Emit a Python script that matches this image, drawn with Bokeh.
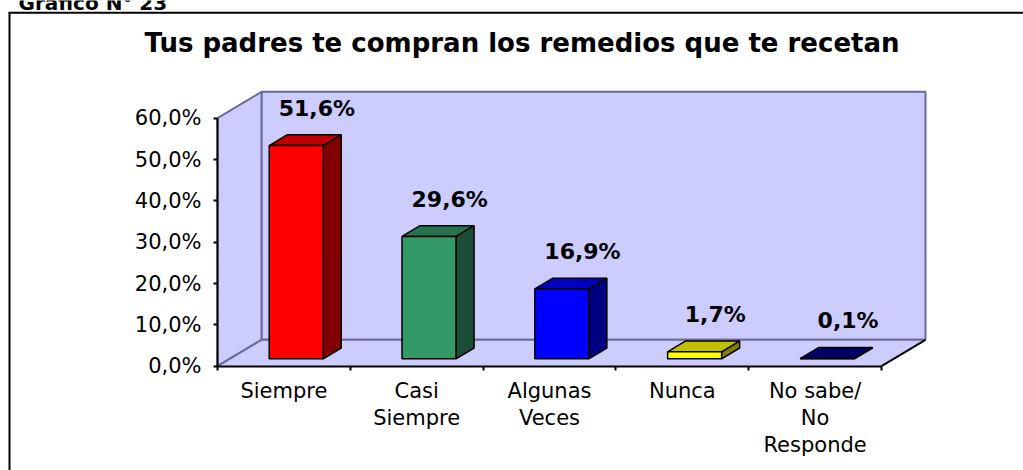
from bokeh.plotting import figure
from bokeh.models import Range1d, LinearAxis, FixedTicker
from bokeh.core.properties import value
from bokeh.embed import file_html
from bokeh.resources import INLINE

# ---------------- data ----------------
categories = ["Siempre", "Casi\nSiempre", "Algunas\nVeces", "Nunca", "No sabe/\nNo\nResponde"]
values = [51.6, 29.6, 16.9, 1.7, 0.1]
value_labels = ["51,6%", "29,6%", "16,9%", "1,7%", "0,1%"]
ytick_values = [0, 10, 20, 30, 40, 50, 60]
ytick_labels = ["0,0%", "10,0%", "20,0%", "30,0%", "40,0%", "50,0%", "60,0%"]
title_text = "Tus padres te compran los remedios que te recetan"
caption_text = "Gráfico N° 23"

# ---------------- styles ----------------
front_colors = ["#FF0000", "#339966", "#0000FF", "#FFFF00", "#000080"]
top_colors = ["#C00000", "#26734D", "#0000C0", "#C0C000", "#000066"]
side_colors = ["#800000", "#1A4D33", "#000080", "#808000", "#000040"]
WALL = "#CCCCFF"
EDGE = "#6B6B9B"
FONT = "DejaVu Sans"

# ---------------- geometry (pixels -> data) ----------------
W, H = 1023, 470
PX0, PX_PER_CAT = 217.0, 132.8      # pixel x of first category boundary, px per category
PY0, PY_PER_PCT = 365.7, 4.1333     # pixel y of 0 %, px per percent


def X(px):
    return (px - PX0) / PX_PER_CAT


def Y(py):
    return (PY0 - py) / PY_PER_PCT


DX = 44.0 / PX_PER_CAT      # depth offset in x data units
DY = 26.4 / PY_PER_PCT      # depth offset in y data units
Z0, Z1 = 0.28, 0.69         # bar depth span (fraction of depth)
HW = 0.2033                 # bar half width (category units)
N = len(values)
YMAX = ytick_values[-1]

p = figure(width=W, height=H,
           x_range=Range1d(X(0), X(W)),
           y_range=Range1d(Y(H), Y(0)),
           x_axis_type=None, y_axis_type=None,
           output_backend="svg", toolbar_location=None, min_border=0)
p.outline_line_color = None
p.background_fill_color = "white"
p.border_fill_color = "white"

# ---------------- walls ----------------
p.quad(left=[DX], right=[N + DX], bottom=[DY], top=[YMAX + DY],
       fill_color=WALL, line_color=EDGE, line_width=2)
p.patch(x=[0, 0, DX, DX], y=[0, YMAX, YMAX + DY, DY],
        fill_color=WALL, line_color=EDGE, line_width=2)
p.patch(x=[0, N, N + DX, DX], y=[0, 0, DY, DY],
        fill_color=WALL, line_color=None)
p.line(x=[0, DX], y=[0, DY], line_color=EDGE, line_width=2)
p.line(x=[DX, N + DX], y=[DY, DY], line_color=EDGE, line_width=2)
p.line(x=[N, N + DX], y=[0, DY], line_color="black", line_width=2)

# ---------------- 3D bars ----------------
centers = [i + 0.5 for i in range(N)]
fl = [c - HW + Z0 * DX for c in centers]
fr = [c + HW + Z0 * DX for c in centers]
fb = [Z0 * DY for _ in centers]
ft = [v + Z0 * DY for v in values]

side_xs = [[c + HW + Z0 * DX, c + HW + Z1 * DX, c + HW + Z1 * DX, c + HW + Z0 * DX] for c in centers]
side_ys = [[Z0 * DY, Z1 * DY, v + Z1 * DY, v + Z0 * DY] for v in values]
top_xs = [[c - HW + Z0 * DX, c + HW + Z0 * DX, c + HW + Z1 * DX, c - HW + Z1 * DX] for c in centers]
top_ys = [[v + Z0 * DY, v + Z0 * DY, v + Z1 * DY, v + Z1 * DY] for v in values]

p.patches(xs=side_xs, ys=side_ys, fill_color=side_colors, line_color="black", line_width=1.5)
p.patches(xs=top_xs, ys=top_ys, fill_color=top_colors, line_color="black", line_width=1.5)
p.quad(left=fl, right=fr, bottom=fb, top=ft, fill_color=front_colors,
       line_color="black", line_width=1.5)

# value labels
p.text(x=[c + 0.75 * DX for c in centers], y=[v + 0.75 * DY for v in values],
       text=value_labels, y_offset=-25, text_align="center", text_baseline="middle",
       text_font=value(FONT), text_font_style="bold", text_font_size="22px", text_color="black")

# ---------------- axes ----------------
yaxis = LinearAxis(fixed_location=0, bounds=(0, YMAX),
                   ticker=FixedTicker(ticks=ytick_values, minor_ticks=[]),
                   major_label_overrides={t: l for t, l in zip(ytick_values, ytick_labels)})
yaxis.axis_line_color = "black"
yaxis.axis_line_width = 2
yaxis.major_tick_line_color = "black"
yaxis.major_tick_line_width = 2
yaxis.major_tick_out = 4
yaxis.major_tick_in = 0
yaxis.minor_tick_line_color = None
yaxis.major_label_standoff = 12
yaxis.major_label_text_font = FONT
yaxis.major_label_text_font_size = "21px"
yaxis.major_label_text_color = "black"
p.add_layout(yaxis, "left")

xaxis = LinearAxis(fixed_location=0, bounds=(0, N),
                   ticker=FixedTicker(ticks=centers, minor_ticks=list(range(N + 1))),
                   major_label_overrides={c: l for c, l in zip(centers, categories)})
xaxis.axis_line_color = "black"
xaxis.axis_line_width = 2
xaxis.major_tick_line_color = None
xaxis.major_tick_out = 0
xaxis.major_tick_in = 0
xaxis.minor_tick_line_color = "black"
xaxis.minor_tick_line_width = 2
xaxis.minor_tick_out = 4
xaxis.minor_tick_in = 0
xaxis.major_label_standoff = 9
xaxis.major_label_text_font = FONT
xaxis.major_label_text_font_size = "21px"
xaxis.major_label_text_color = "black"
xaxis.major_label_text_line_height = 1.12
p.add_layout(xaxis, "below")

# ---------------- frame decorations ----------------
p.line(x=[X(9), X(9)], y=[Y(12.3), Y(H + 5)], line_color="black", line_width=2)
p.line(x=[X(8), X(W + 5)], y=[Y(12.3), Y(12.3)], line_color="black", line_width=2)

p.text(x=[X(521.5)], y=[Y(42.8)], text=[title_text], text_align="center",
       text_baseline="middle", text_font=value(FONT), text_font_style="bold",
       text_font_size="26px", text_color="black")
p.text(x=[X(18)], y=[Y(2.7)], text=[caption_text], text_align="left",
       text_baseline="middle", text_font=value(FONT), text_font_style="bold",
       text_font_size="20px", text_color="black")

open("out.html", "w").write(file_html(p, INLINE))
